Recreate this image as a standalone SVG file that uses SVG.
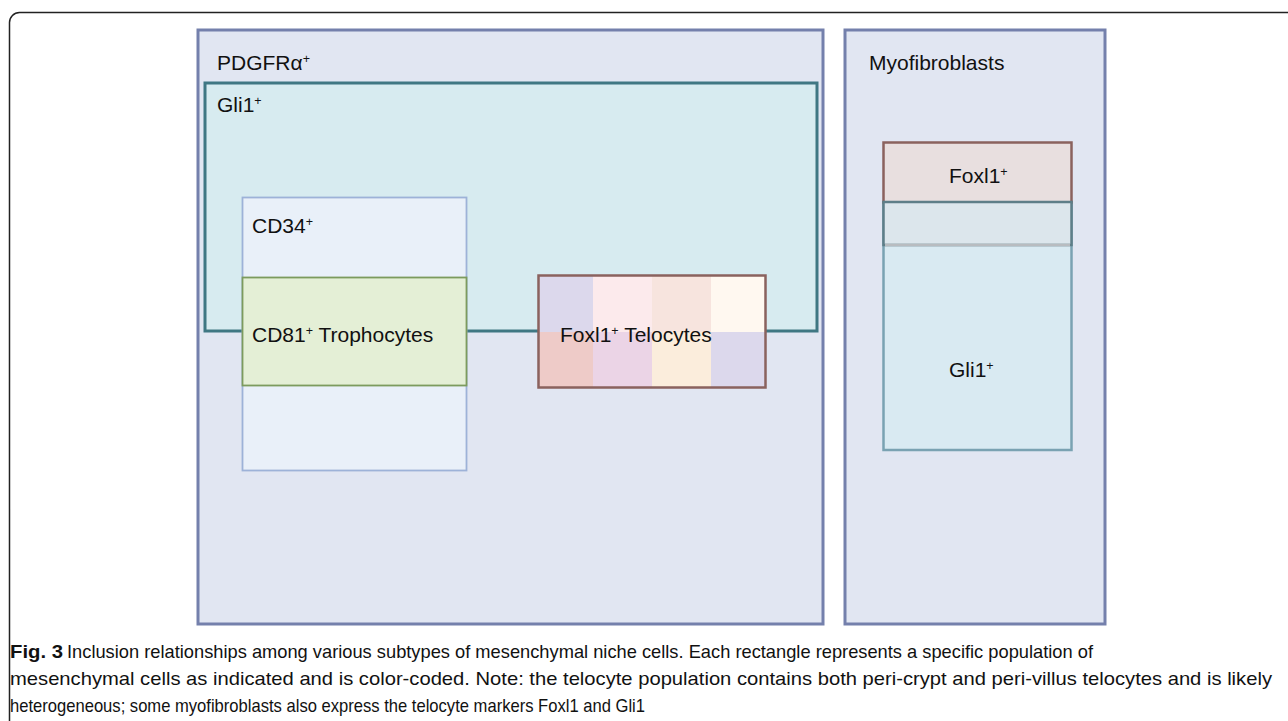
<svg xmlns="http://www.w3.org/2000/svg" width="1288" height="721" viewBox="0 0 1288 721">
  <style>
    .lbl { font-family: "Liberation Sans", Arial, sans-serif; font-size: 21px; fill: #111; }
    .sup { font-size: 12.5px; }
    .cap { font-family: "Liberation Sans Narrow", "Liberation Sans", Arial, sans-serif; font-size: 19px; fill: #111; }
    .capb { font-family: "Liberation Sans Narrow", "Liberation Sans", Arial, sans-serif; font-size: 19px; font-weight: bold; fill: #111; }
    .outer { fill: #E1E6F2; stroke: #7480AC; stroke-width: 3; }
  </style>
  <rect width="1288" height="721" fill="#fff"/>
  <!-- figure frame -->
  <rect x="9.5" y="12.5" width="1320" height="760" rx="10" fill="none" stroke="#222" stroke-width="1.5"/>

  <g id="pdgfra">
    <rect class="outer" x="198" y="30" width="625" height="594"/>
    <text class="lbl" x="217" y="70">PDGFRα<tspan class="sup" dy="-7.5">+</tspan></text>
  </g>

  <g id="gli1">
    <rect x="205" y="83" width="612" height="248" fill="#D7EBF0" stroke="#3F7783" stroke-width="3"/>
    <text class="lbl" x="217" y="112">Gli1<tspan class="sup" dy="-7.5">+</tspan></text>
  </g>

  <g id="cd34">
    <rect x="242.5" y="197.5" width="224" height="273" fill="#E9F0F9" stroke="#9DB2D8" stroke-width="1.8"/>
    <text class="lbl" x="252" y="233">CD34<tspan class="sup" dy="-7.5">+</tspan></text>
  </g>

  <g id="cd81">
    <rect x="242.5" y="277.5" width="224" height="108" fill="#E4EFD6" stroke="#7C9B5E" stroke-width="1.8"/>
    <text class="lbl" x="252" y="342">CD81<tspan class="sup" dy="-7.5">+</tspan><tspan dy="7.5"> Trophocytes</tspan></text>
  </g>

  <g id="telocytes">
    <rect x="538" y="275" width="55" height="57" fill="#DCD8EC"/>
    <rect x="593" y="275" width="59" height="57" fill="#FCEAEC"/>
    <rect x="652" y="275" width="59" height="57" fill="#F7E4DE"/>
    <rect x="711" y="275" width="55" height="57" fill="#FFF8F0"/>
    <rect x="538" y="332" width="55" height="56" fill="#EECBC8"/>
    <rect x="593" y="332" width="59" height="56" fill="#EBD4E6"/>
    <rect x="652" y="332" width="59" height="56" fill="#FBEDDC"/>
    <rect x="711" y="332" width="55" height="56" fill="#DCD8EC"/>
    <rect x="538.5" y="275.5" width="227" height="112" fill="none" stroke="#8A625E" stroke-width="2.5"/>
    <text class="lbl" x="560" y="342">Foxl1<tspan class="sup" dy="-7.5">+</tspan><tspan dy="7.5"> Telocytes</tspan></text>
  </g>

  <g id="myofibroblasts">
    <rect class="outer" x="845" y="30" width="260" height="594"/>
    <text class="lbl" x="869" y="70">Myofibroblasts</text>
  </g>

  <g id="myo-gli1">
    <rect x="883.5" y="202" width="188" height="248" fill="#D9EAF2" stroke="#7AA2B2" stroke-width="2.5"/>
    <text class="lbl" x="949" y="377">Gli1<tspan class="sup" dy="-7.5">+</tspan></text>
  </g>

  <g id="myo-foxl1">
    <rect x="883.5" y="142.5" width="188" height="60" fill="#E8DFDF" stroke="#8A625E" stroke-width="2.5"/>
    <rect x="883.5" y="202" width="188" height="43" fill="#DCE6EC" stroke="#5E7E88" stroke-width="2.5"/>
    <line x1="885" y1="245" x2="1070" y2="245" stroke="#B8BCC0" stroke-width="2.5"/>
    <text class="lbl" x="949" y="183">Foxl1<tspan class="sup" dy="-7.5">+</tspan></text>
  </g>

  <g id="caption">
    <text class="capb" x="10" y="658" textLength="53" lengthAdjust="spacingAndGlyphs">Fig. 3</text>
    <text class="cap" x="67" y="658" textLength="1026" lengthAdjust="spacingAndGlyphs">Inclusion relationships among various subtypes of mesenchymal niche cells. Each rectangle represents a specific population of</text>
    <text class="cap" x="10" y="685" textLength="1262" lengthAdjust="spacingAndGlyphs">mesenchymal cells as indicated and is color-coded. Note: the telocyte population contains both peri-crypt and peri-villus telocytes and is likely</text>
    <text class="cap" x="10" y="712" textLength="635" lengthAdjust="spacingAndGlyphs">heterogeneous; some myofibroblasts also express the telocyte markers Foxl1 and Gli1</text>
  </g>
</svg>
